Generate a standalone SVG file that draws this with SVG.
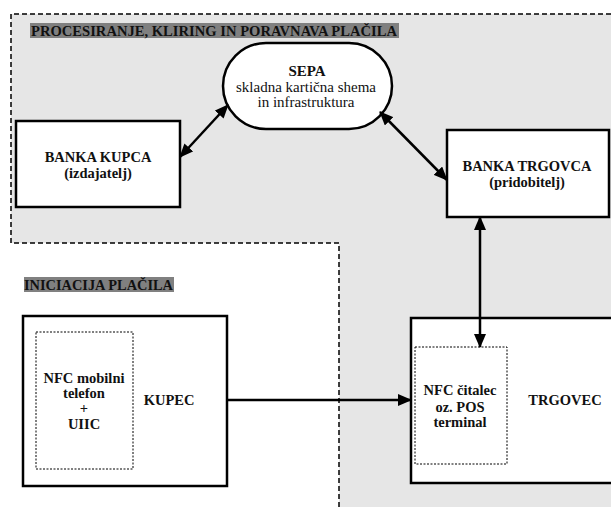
<svg xmlns="http://www.w3.org/2000/svg" width="611" height="507" viewBox="0 0 611 507">
<style>
.box{fill:#fff;stroke:#000;stroke-width:2.5}
.inner{fill:#fff;stroke:#000;stroke-width:1;stroke-dasharray:2,1.5}
.zone{fill:none;stroke:#000;stroke-width:1.5;stroke-dasharray:5,3}
text{font-family:'Liberation Serif','DejaVu Serif',serif}
.t{font-size:14.5px;text-anchor:middle;fill:#111}
.b{font-weight:bold}
.s{font-size:15px}
.hdr{font-size:14px;font-weight:bold;fill:#111}
.conn{stroke:#000;stroke-width:2.5;fill:none}
</style>
<defs>
<marker id="ah" markerUnits="userSpaceOnUse" markerWidth="14" markerHeight="12" refX="13" refY="6" orient="auto-start-reverse">
<path d="M0,0 L14,6 L0,12 Z" fill="#000"/>
</marker>
</defs>
<rect width="611" height="507" fill="#fff"/>
<g id="zones">
<path d="M11,14 L611,14 L611,507 L339,507 L339,243 L11,243 Z" fill="#e6e6e6"/>
<path class="zone" d="M611,14 L11,14 L11,243 L339,243 L339,507"/>
<rect x="30" y="23" width="369" height="15" fill="#808080"/>
<text class="hdr" x="31" y="35.5" textLength="366" lengthAdjust="spacingAndGlyphs">PROCESIRANJE, KLIRING IN PORAVNAVA PLAČILA</text>
<rect x="24" y="277" width="150" height="15" fill="#808080"/>
<text class="hdr" x="24" y="289.5" textLength="149" lengthAdjust="spacingAndGlyphs">INICIACIJA PLAČILA</text>
</g>
<g id="sepa">
<rect class="box" x="223" y="43" width="169" height="86" rx="43" ry="43"/>
<text class="t b s" x="307" y="76">SEPA</text>
<text class="t s" x="306" y="92">skladna kartična shema</text>
<text class="t s" x="306" y="107">in infrastruktura</text>
</g>
<g id="banka-kupca">
<rect class="box" x="16" y="121" width="164" height="86"/>
<text class="t b" x="98" y="162">BANKA KUPCA</text>
<text class="t b" x="98" y="178">(izdajatelj)</text>
</g>
<g id="banka-trgovca">
<rect class="box" x="447" y="130" width="162" height="87"/>
<text class="t b" x="527" y="171">BANKA TRGOVCA</text>
<text class="t b" x="527" y="187">(pridobitelj)</text>
</g>
<g id="kupec">
<rect class="box" x="23" y="316" width="204" height="170"/>
<rect class="inner" x="36" y="332" width="97" height="137"/>
<text class="t b" x="84" y="383">NFC mobilni</text>
<text class="t b" x="84" y="398">telefon</text>
<text class="t b" x="84" y="413">+</text>
<text class="t b" x="84" y="429">UIIC</text>
<text class="t b" x="169" y="405">KUPEC</text>
</g>
<g id="trgovec">
<rect class="box" x="411" y="318" width="210" height="165"/>
<rect class="inner" x="415" y="347" width="92" height="117"/>
<text class="t b" x="460" y="395">NFC čitalec</text>
<text class="t b" x="460" y="412">oz. POS</text>
<text class="t b" x="460" y="427">terminal</text>
<text class="t b" x="565" y="405">TRGOVEC</text>
</g>
<g id="connectors">
<line class="conn" x1="180" y1="157" x2="228" y2="105" marker-start="url(#ah)" marker-end="url(#ah)"/>
<line class="conn" x1="380" y1="112" x2="447" y2="180" marker-start="url(#ah)" marker-end="url(#ah)"/>
<line class="conn" x1="480" y1="217" x2="480" y2="347" marker-start="url(#ah)" marker-end="url(#ah)"/>
<line class="conn" x1="227" y1="400" x2="411" y2="400" marker-end="url(#ah)"/>
</g>
</svg>
